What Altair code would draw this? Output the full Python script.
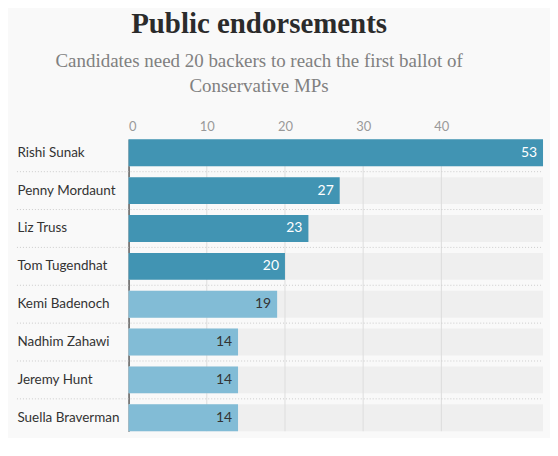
import altair as alt
import pandas as pd

names = ["Rishi Sunak", "Penny Mordaunt", "Liz Truss", "Tom Tugendhat",
         "Kemi Badenoch", "Nadhim Zahawi", "Jeremy Hunt", "Suella Braverman"]
backers = [53, 27, 23, 20, 19, 14, 14, 14]
x_max = 53
grid_ticks = [10, 20, 30, 40]

df = pd.DataFrame({"name": names, "backers": backers})
df["qualified"] = df["backers"] >= 20
df["full"] = x_max

sep_df = pd.DataFrame({"name": names[:-1]})
grid_df = pd.DataFrame({"v": grid_ticks})

label_font = "Lato"

x_scale = alt.Scale(domain=[0, x_max], nice=False)
y_enc = alt.Y("name:N", sort=names, title=None,
              scale=alt.Scale(paddingInner=0.29, paddingOuter=0),
              axis=alt.Axis(labelAlign="left", labelPadding=112, ticks=False,
                            domain=True, domainColor="#333333", domainWidth=1.2,
                            labelFont=label_font, labelFontSize=13.5,
                            labelColor="#333333", grid=False))

bg = alt.Chart(df).mark_bar(color="#efefef").encode(
    x=alt.X("full:Q", scale=x_scale, title=None,
            axis=alt.Axis(orient="top", values=[0, 10, 20, 30, 40], grid=False,
                          ticks=False, domain=False, labelFont=label_font,
                          labelFontSize=13, labelColor="#999999", labelPadding=6)),
    y=y_enc,
)

grid = alt.Chart(grid_df).mark_rule(color="#dddddd", strokeWidth=1).encode(
    x=alt.X("v:Q", scale=x_scale),
)

seps = alt.Chart(sep_df).mark_rule(color="#cccccc", strokeDash=[1, 2],
                                   strokeWidth=1, yOffset=19).encode(
    y=alt.Y("name:N", sort=names),
    x=alt.value(-112),
    x2=alt.value(416),
)

bars = alt.Chart(df).mark_bar().encode(
    x=alt.X("backers:Q", scale=x_scale),
    y=alt.Y("name:N", sort=names),
    color=alt.Color("qualified:N", legend=None,
                    scale=alt.Scale(domain=[True, False],
                                    range=["#4194b3", "#82bcd6"])),
)

labels = alt.Chart(df).mark_text(align="right", dx=-6, font=label_font,
                                 fontSize=14, baseline="middle").encode(
    x=alt.X("backers:Q", scale=x_scale),
    y=alt.Y("name:N", sort=names),
    text="backers:Q",
    color=alt.Color("qualified:N", legend=None,
                    scale=alt.Scale(domain=[True, False],
                                    range=["#ffffff", "#333333"])),
)

chart = alt.layer(bg, grid, seps, bars, labels).resolve_scale(
    color="independent"
).properties(
    width=416, height=293,
    title=alt.TitleParams(
        text="Public endorsements",
        subtitle=["Candidates need 20 backers to reach the first ballot of",
                  "Conservative MPs"],
        font="Liberation Serif", fontSize=29, fontWeight="bold",
        color="#2b2b2b",
        subtitleFont="Liberation Serif", subtitleFontSize=19,
        subtitleColor="#808080", subtitleLineHeight=26,
        subtitlePadding=13,
        anchor="middle", frame="bounds", dx=-21, offset=24,
    ),
    padding={"left": 8, "top": 1, "right": 6, "bottom": 5},
    background="#f9f9f9",
).configure_view(stroke=None)

chart.save("out.html", embed_options={"renderer": "svg", "actions": False})
